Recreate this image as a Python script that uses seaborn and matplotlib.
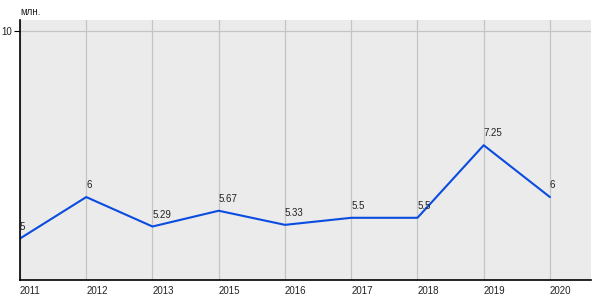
import matplotlib
matplotlib.use("Agg")
import matplotlib.pyplot as plt
import seaborn as sns
import pandas as pd

years = ["2011", "2012", "2013", "2015", "2016", "2017", "2018", "2019", "2020"]
values = [5, 6, 5.29, 5.67, 5.33, 5.5, 5.5, 7.25, 6]
labels = ["5", "6", "5.29", "5.67", "5.33", "5.5", "5.5", "7.25", "6"]
y_unit = "млн."

sns.set_theme(style="white")
plt.rcParams["font.family"] = ["Liberation Sans", "DejaVu Sans"]

df = pd.DataFrame({"pos": range(len(years)), "value": values})

fig = plt.figure(figsize=(6, 3), dpi=100)
ax = fig.add_axes([20/600, 1 - 280/300, 571/600, 260/300])
ax.set_facecolor("#ebebeb")

sns.lineplot(data=df, x="pos", y="value", ax=ax, color="#0a4be0", linewidth=1.5)

ax.set_xlim(0, 8.62)
ax.set_ylim(4, 10.27)
ax.set_xticks(range(len(years)))
ax.set_xticklabels(years, ha="left", fontsize=7, color="#222222")
ax.set_yticks([10])
ax.set_yticklabels(["10"], fontsize=7, color="#222222")
ax.tick_params(axis="x", length=0, pad=4)
ax.tick_params(axis="y", length=4, width=0.8, color="black", pad=2, left=True)
ax.grid(True, color="#c4c4c4", linewidth=0.9)
ax.set_xlabel("")
ax.set_ylabel("")
for s in ["top", "right"]:
    ax.spines[s].set_visible(False)
for s in ["left", "bottom"]:
    ax.spines[s].set_color("black")
    ax.spines[s].set_linewidth(1.2)

for i, (v, t) in enumerate(zip(values, labels)):
    ax.annotate(t, (i, v), xytext=(0, 5), textcoords="offset points",
                ha="left", va="bottom", fontsize=7, color="#222222")

fig.text(20/600, 1 - 12/300, y_unit, ha="left", va="center", fontsize=7, color="#222222")

fig.savefig("out.png", dpi=100)
